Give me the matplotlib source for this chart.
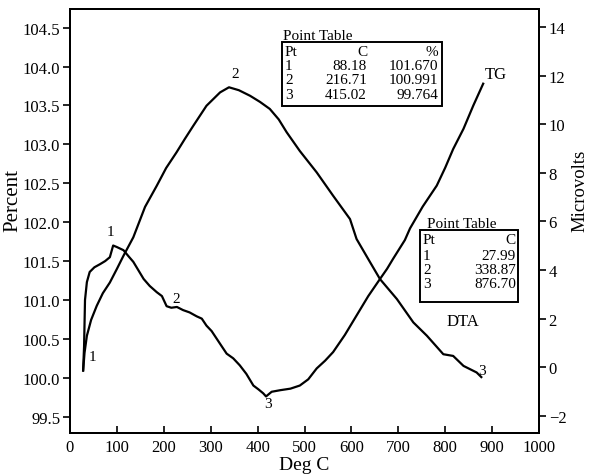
import matplotlib.pyplot as plt
from matplotlib.patches import Rectangle

plt.rcParams['font.family'] = ['Liberation Serif', 'DejaVu Serif']

# TG curve (Percent, left axis)
tg_temp = [28, 30, 32, 36, 42, 52, 64, 75, 85, 92, 100, 114, 125, 135, 146, 157, 170, 185, 196,
           206, 216, 228, 241, 255, 270, 281, 291, 302, 313, 324, 334, 348, 362, 376, 391, 402,
           412, 418, 430, 448, 470, 490, 508, 526, 544, 561, 586, 611, 636, 661, 676, 689,
           714, 725, 752, 782, 800, 817, 839, 860, 881]
tg_pct = [100.10, 100.40, 101.00, 101.23, 101.36, 101.42, 101.46, 101.50, 101.55, 101.70, 101.68,
          101.64, 101.56, 101.49, 101.38, 101.27, 101.18, 101.10, 101.05, 100.92, 100.90, 100.91,
          100.87, 100.84, 100.79, 100.76, 100.67, 100.60, 100.50, 100.40, 100.31, 100.25, 100.16,
          100.05, 99.90, 99.85, 99.80, 99.76, 99.82, 99.84, 99.86, 99.90, 99.98, 100.12, 100.22,
          100.33, 100.55, 100.80, 101.05, 101.27, 101.40, 101.53, 101.77, 101.92, 102.20, 102.47,
          102.70, 102.94, 103.20, 103.50, 103.78]

# DTA curve (Microvolts, right axis)
dta_temp = [28, 31, 36, 45, 57, 70, 85, 100, 114, 135, 160, 185, 205, 227, 245, 263, 291, 320,
            339, 360, 384, 405, 426, 445, 462, 490, 526, 561, 597, 611, 640, 661, 697, 732, 761,
            796, 817, 839, 867, 877]
dta_uv = [-0.14, 0.60, 1.30, 1.95, 2.53, 3.05, 3.49, 4.05, 4.59, 5.35, 6.60, 7.47, 8.20, 8.84,
          9.40, 9.94, 10.76, 11.31, 11.52, 11.40, 11.17, 10.92, 10.63, 10.20, 9.67, 8.90, 8.02,
          7.06, 6.10, 5.28, 4.32, 3.63, 2.81, 1.85, 1.30, 0.54, 0.47, 0.06, -0.21, -0.40]

tg_pts = ['1', '2', '3']
tg_c = ['88.18', '216.71', '415.02']
tg_v = ['101.670', '100.991', '99.764']
dta_pts = ['1', '2', '3']
dta_c = ['27.99', '338.87', '876.70']

W, H = 590, 477
fig = plt.figure(figsize=(W / 100, H / 100), dpi=100)
ax = fig.add_axes([70 / W, 43 / H, 469 / W, 424 / H])
ax2 = ax.twinx()

ax.plot(tg_temp, tg_pct, color='black', lw=1.6)
ax2.plot(dta_temp, dta_uv, color='black', lw=1.6)

ax.set_xlim(0, 1000)
ax.set_ylim(99.29, 104.74)
ax2.set_ylim(-2.70, 14.74)
ax.set_xticks(range(0, 1001, 100))
ax.set_yticks([99.5, 100.0, 100.5, 101.0, 101.5, 102.0, 102.5, 103.0, 103.5, 104.0, 104.5])
ax.set_yticklabels(['%.1f' % v for v in ax.get_yticks()])
ax2.set_yticks(range(-2, 15, 2))
ax2.set_yticklabels(['\u22122' if v < 0 else str(v) for v in range(-2, 15, 2)])

ax.tick_params(axis='x', direction='in', length=5, width=1.2, labelsize=12, pad=4)
ax.tick_params(axis='y', direction='out', length=5, width=1.2, labelsize=12, pad=2)
ax2.tick_params(axis='y', direction='out', length=5, width=1.2, labelsize=12, pad=2)
for a in (ax, ax2):
    for s in a.spines.values():
        s.set_linewidth(1.4)

ax.set_xlabel('Deg C', fontsize=14, labelpad=1)
ax.set_ylabel('Percent', fontsize=15)
ax.yaxis.set_label_coords(-0.102, 0.55)
ax2.set_ylabel('Microvolts', fontsize=13.5)
ax2.yaxis.set_label_coords(1.07, 0.573)

# point labels
fs = 11
ax.text(87, 101.88, '1', fontsize=fs, ha='center', va='center')
ax.text(226, 101.02, '2', fontsize=fs, ha='center', va='center')
ax.text(422, 99.67, '3', fontsize=fs, ha='center', va='center')
ax2.text(49, 0.46, '1', fontsize=fs, ha='center', va='center')
ax2.text(352, 12.07, '2', fontsize=fs, ha='center', va='center')
ax2.text(878, -0.11, '3', fontsize=fs, ha='center', va='center')
ax2.text(908, 12.07, 'TG', fontsize=12, ha='center', va='center')
ax2.text(838, 1.91, 'DTA', fontsize=12, ha='center', va='center')


def fx(px):
    return px / W


def fy(py):
    return 1 - py / H


# point table 1
tf = 11
fig.patches.append(Rectangle((fx(282), fy(107)), (442 - 282) / W, (107 - 43) / H,
                             transform=fig.transFigure, fill=False, lw=1.4, color='black'))
fig.text(fx(283), fy(37), 'Point Table', fontsize=tf, va='center')
rows_y = [53, 67, 81, 96]
fig.text(fx(285), fy(rows_y[0]), 'Pt', fontsize=tf, va='center')
fig.text(fx(367), fy(rows_y[0]), 'C', fontsize=tf, va='center', ha='right')
fig.text(fx(438), fy(rows_y[0]), '%', fontsize=tf, va='center', ha='right')
for i in range(3):
    fig.text(fx(285), fy(rows_y[i + 1]), tg_pts[i], fontsize=tf, va='center')
    fig.text(fx(367), fy(rows_y[i + 1]), tg_c[i], fontsize=tf, va='center', ha='right')
    fig.text(fx(438), fy(rows_y[i + 1]), tg_v[i], fontsize=tf, va='center', ha='right')

# point table 2
fig.patches.append(Rectangle((fx(420), fy(303)), (518 - 420) / W, (303 - 231) / H,
                             transform=fig.transFigure, fill=False, lw=1.4, color='black'))
fig.text(fx(427), fy(225), 'Point Table', fontsize=tf, va='center')
rows_y = [241, 256, 270, 285]
fig.text(fx(423), fy(rows_y[0]), 'Pt', fontsize=tf, va='center')
fig.text(fx(516), fy(rows_y[0]), 'C', fontsize=tf, va='center', ha='right')
for i in range(3):
    fig.text(fx(423), fy(rows_y[i + 1]), dta_pts[i], fontsize=tf, va='center')
    fig.text(fx(516), fy(rows_y[i + 1]), dta_c[i], fontsize=tf, va='center', ha='right')

fig.savefig('out.png', dpi=100)
